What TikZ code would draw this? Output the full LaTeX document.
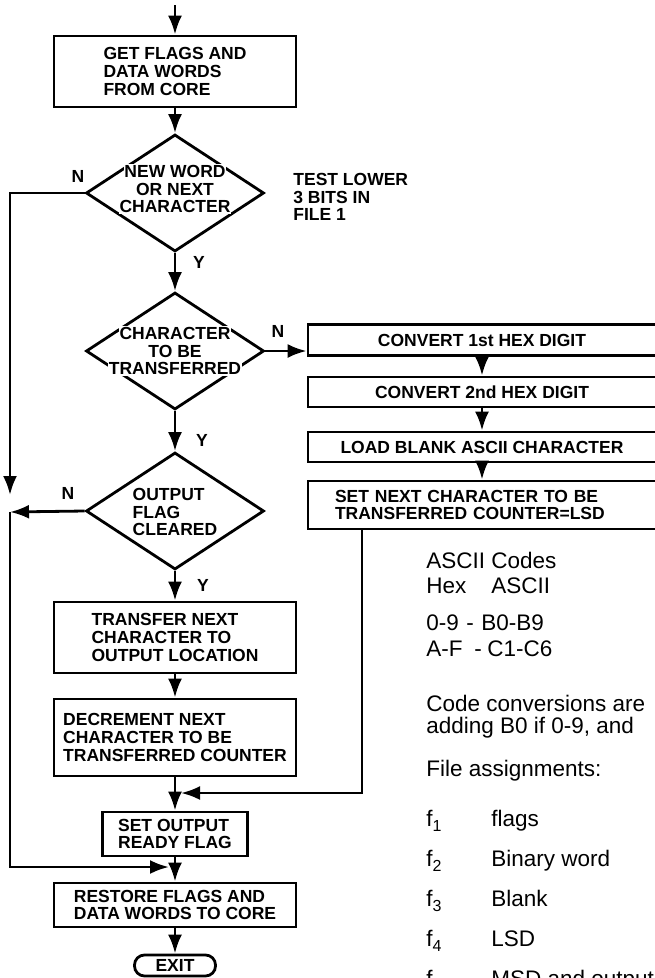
\documentclass[tikz,border=0pt]{standalone}
\usepackage{fontspec}
\setmainfont{Liberation Sans}
\usetikzlibrary{shapes.geometric,arrows.meta}
\newcommand\flfont{\fontsize{17.5}{17.8}\selectfont\bfseries}
\newcommand\notefont{\fontsize{22.5}{24}\selectfont}
\newcommand\wl[1]{{\setlength{\fboxsep}{0.8pt}\colorbox{white}{#1}}}
\newcommand\fsub[1]{f\raisebox{-5pt}{\fontsize{16}{16}\selectfont #1}}
\begin{document}
\begin{tikzpicture}[x=1pt,y=1pt,line width=2.8pt,>={Latex[length=19pt,width=14pt]},
  every node/.style={inner sep=0pt,font=\flfont},
  box/.style={draw,rectangle,minimum width=242pt,align=left},
  wide/.style={draw,rectangle,minimum width=348pt,minimum height=31pt,align=center},
  dia/.style={draw,diamond,minimum width=178pt,minimum height=117pt},
  note/.style={anchor=base west,font=\notefont}]
 \useasboundingbox (0,0) rectangle (654,-978);
 \node[box,minimum height=71pt] (get) at (175,-71.5) {GET FLAGS AND\\DATA WORDS\\FROM CORE};
 \node[dia] (d1) at (175,-193) {};
 \node[align=center] (d1t) at (175,-189) {\wl{NEW WORD}\\\wl{OR NEXT}\\\wl{CHARACTER}};
 \node[dia] (d2) at (175,-351) {};
 \node[align=center] (d2t) at (175,-351) {\wl{CHARACTER}\\\wl{TO BE}\\\wl{TRANSFERRED}};
 \node[dia] (d3) at (175,-511) {};
 \node[align=left] (d3t) at (175,-512) {OUTPUT\\FLAG\\CLEARED};
 \node[box,minimum height=71pt] (xfer) at (175,-637.5) {TRANSFER NEXT\\CHARACTER TO\\OUTPUT LOCATION};
 \node[box,minimum height=77pt] (decr) at (175,-737.5) {DECREMENT NEXT\\CHARACTER TO BE\\TRANSFERRED COUNTER};
 \node[draw,minimum width=145pt,minimum height=44pt,align=left] (ready) at (175,-834) {SET OUTPUT\\READY FLAG};
 \node[box,minimum height=44pt] (restore) at (175,-905) {RESTORE FLAGS AND\\DATA WORDS TO CORE};
 \node[draw,rounded corners=10pt,minimum width=81pt,minimum height=21pt] (exit) at (175,-965.5) {EXIT};

 \node[wide] (c1) at (482,-340) {CONVERT 1st HEX DIGIT};
 \node[wide,minimum height=30pt] (c2) at (482,-392) {CONVERT 2nd HEX DIGIT};
 \node[wide,minimum height=30pt] (c3) at (482,-447) {LOAD BLANK ASCII CHARACTER};
 \node[wide,minimum height=48pt,text width=294pt,inner xsep=27pt,align=left] (c4) at (482,-505) {SET NEXT CHARACTER TO BE\\TRANSFERRED COUNTER=LSD};

 \node (n1) at (78,-176) {N};
 \node (y1) at (199,-262) {Y};
 \node (n2) at (278,-331) {N};
 \node (y2) at (202,-440) {Y};
 \node (n3) at (68,-493) {N};
 \node (y3) at (203,-585) {Y};
 \node[align=left,anchor=west] (test) at (292,-197) {TEST LOWER\\3 BITS IN\\FILE 1};

 \coordinate (top) at (175,-5);
 \coordinate (lt) at (10,-193);
 \coordinate (lm) at (10,-512);
 \coordinate (lb) at (10,-867);
 \coordinate (mj) at (175,-867);
 \coordinate (rb) at (362,-793);
 \coordinate (rj) at (175,-793);

 \draw[->] (top) -- (get);
 \draw[->] (get) -- (d1);
 \draw[->] (d1) -- (d2);
 \draw[->] (d2) -- (d3);
 \draw[->] (d3) -- (xfer);
 \draw[->] (xfer) -- (decr);
 \draw[->] (decr) -- (ready);
 \draw[->] (ready) -- (restore);
 \draw[->] (restore) -- (exit);
 \draw[->] (d2.east) -- (d2.east -| c1.west);
 \draw[->] (c1) -- (c2);
 \draw[->] (c2) -- (c3);
 \draw[->] (c3) -- (c4);
 \draw[->] (d1.west) -- (lt) -- ([yshift=17pt]lm);
 \draw[->] (lm) -- (lb) -- ([xshift=-6pt]mj);
 \draw[->] (d3.west) -- (lm);
 \draw[->] (c4.south -| rb) -- (rb) -- ([xshift=6pt]rj);

 \node[note] (asc) at (425,-568) {ASCII Codes};
 \node[note] (hex) at (425,-593) {\makebox[65pt][l]{Hex}ASCII};
 \node[note] (d09) at (425,-630) {\makebox[40pt][l]{0-9}\makebox[15pt][l]{-}B0-B9};
 \node[note] (daf) at (425,-656) {\makebox[48pt][l]{A-F}\makebox[13pt][l]{-}C1-C6};
 \node[note] (conv) at (425,-711) {Code conversions are};
 \node[note] (add) at (425,-733) {adding B0 if 0-9, and};
 \node[note] (fas) at (425,-776) {File assignments:};
 \foreach \i/\t in {1/flags,2/Binary word,3/Blank,4/LSD,5/MSD and output}
  \node[note] (f\i) at (425,-786-40*\i) {\makebox[65pt][l]{\fsub{\i}}\t};
\end{tikzpicture}
\end{document}
